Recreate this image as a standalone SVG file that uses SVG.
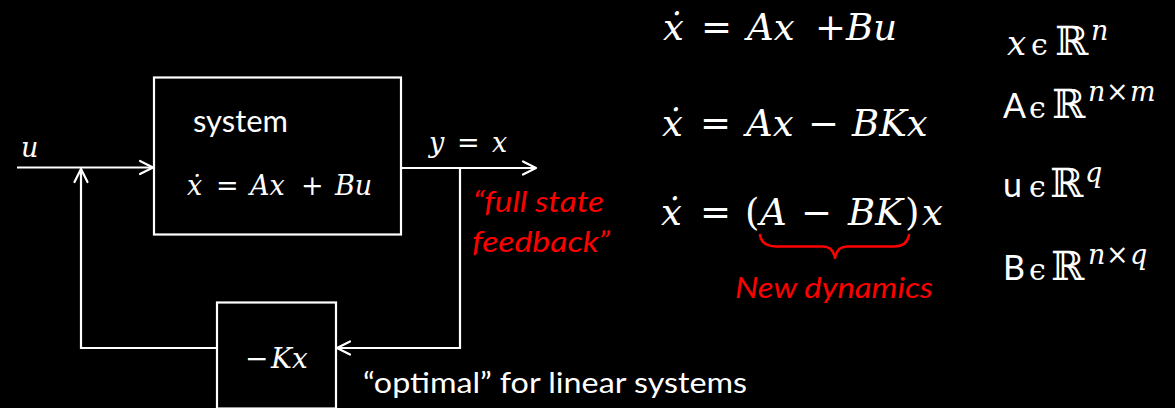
<svg xmlns="http://www.w3.org/2000/svg" width="1175" height="408" viewBox="0 0 1175 408">
<defs>
<style>
.bg{fill:#000}
.box{fill:none;stroke:#fff;stroke-width:2.2}
.wire{fill:none;stroke:#fff;stroke-width:2.2}
.m{font-family:"DejaVu Serif","Liberation Serif",serif;fill:#fff}
.mi{font-style:italic}
.sym{font-family:"DejaVu Serif","DejaVu Sans",serif;font-style:normal}
.t{font-family:Lato,"Open Sans","Liberation Sans",sans-serif;fill:#fff}
.red{fill:#ff0000;font-style:italic}
.brace{fill:none;stroke:#ff0000;stroke-width:2.5;stroke-linecap:round;stroke-linejoin:round}
</style>
<marker id="arr" markerUnits="userSpaceOnUse" markerWidth="18" markerHeight="18" viewBox="0 0 18 18" refX="15" refY="9" orient="auto">
<path d="M2,2.5 L15,9 L2,15.5" fill="none" stroke="#fff" stroke-width="2.2" stroke-linecap="round" stroke-linejoin="round"/>
</marker>
</defs>
<rect class="bg" x="0" y="0" width="1175" height="408"/>

<g id="connectors">
<path class="wire" d="M17,167.5 H153" marker-end="url(#arr)"/>
<path class="wire" d="M401,168 H536" marker-end="url(#arr)"/>
<path class="wire" d="M460,168 V348 H337" marker-end="url(#arr)"/>
<path class="wire" d="M217,348 H81 V169" marker-end="url(#arr)"/>
</g>

<g id="system">
<rect class="box" x="154" y="77.5" width="247" height="157"/>
<text class="t" x="193" y="132" font-size="30" textLength="95" lengthAdjust="spacingAndGlyphs">system</text>
<text class="m" y="195" font-size="27"><tspan class="mi" x="187">ẋ</tspan><tspan x="216">=</tspan><tspan class="mi" x="250">Ax</tspan><tspan x="301">+</tspan><tspan class="mi" x="335">Bu</tspan></text>
</g>

<g id="controller">
<rect class="box" x="217" y="302.5" width="119" height="106"/>
<text class="m" y="368" font-size="28"><tspan x="245">−</tspan><tspan class="mi" x="271">Kx</tspan></text>
</g>

<g id="labels">
<text class="m mi" x="21" y="157" font-size="27">u</text>
<text class="m" y="152" font-size="27"><tspan class="mi" x="429">y</tspan><tspan x="457">=</tspan><tspan class="mi" x="492">x</tspan></text>
<text class="t red" x="473" y="212" font-size="28" textLength="131" lengthAdjust="spacingAndGlyphs">“full state</text>
<text class="t red" x="472" y="252" font-size="28" textLength="138" lengthAdjust="spacingAndGlyphs">feedback”</text>
<text class="t" x="363" y="393" font-size="29" textLength="384" lengthAdjust="spacingAndGlyphs">“optimal” for linear systems</text>
</g>

<g id="equations">
<text class="m" y="40" font-size="37"><tspan class="mi" x="663">ẋ</tspan><tspan x="701">=</tspan><tspan class="mi" x="747">Ax</tspan><tspan x="815">+</tspan><tspan class="mi" x="846">Bu</tspan></text>
<text class="m" y="136" font-size="37"><tspan class="mi" x="662">ẋ</tspan><tspan x="700">=</tspan><tspan class="mi" x="746">Ax</tspan><tspan x="808">−</tspan><tspan class="mi" x="852">BKx</tspan></text>
<text class="m" y="225" font-size="37"><tspan class="mi" x="661">ẋ</tspan><tspan x="700">=</tspan><tspan x="745">(</tspan><tspan class="mi" x="760">A</tspan><tspan x="801">−</tspan><tspan class="mi" x="848">BK</tspan><tspan x="905">)</tspan><tspan class="mi" x="922">x</tspan></text>
<path class="brace" d="M760,235 Q762,246.5 776,246.5 L823,246.5 Q833,246.5 835,258 Q837,246.5 847,246.5 L894,246.5 Q907,246.5 909,235"/>
<text class="t red" x="735" y="298" font-size="29" textLength="198" lengthAdjust="spacingAndGlyphs">New dynamics</text>
</g>

<g id="dimensions">
<text class="m" y="55" font-size="34"><tspan class="mi" x="1007">x</tspan><tspan class="sym" x="1031" font-size="30">ϵ</tspan><tspan class="sym" x="1055" font-size="40">ℝ</tspan><tspan class="mi" x="1091" y="40" font-size="27">n</tspan></text>
<text class="m" y="118" font-size="32"><tspan class="t" x="1003" font-size="34">A</tspan><tspan class="sym" x="1029" font-size="30">ϵ</tspan><tspan class="sym" x="1052" font-size="40">ℝ</tspan><tspan class="mi" x="1088" y="101" font-size="27">n</tspan><tspan x="1106" y="101" font-size="27">×</tspan><tspan class="mi" x="1130" y="101" font-size="27">m</tspan></text>
<text class="m" y="197" font-size="32"><tspan class="t" x="1003" font-size="34">u</tspan><tspan class="sym" x="1029" font-size="30">ϵ</tspan><tspan class="sym" x="1050" font-size="40">ℝ</tspan><tspan class="mi" x="1085" y="182" font-size="27">q</tspan></text>
<text class="m" y="280" font-size="32"><tspan class="t" x="1003" font-size="34">B</tspan><tspan class="sym" x="1029" font-size="30">ϵ</tspan><tspan class="sym" x="1051" font-size="40">ℝ</tspan><tspan class="mi" x="1088" y="264" font-size="27">n</tspan><tspan x="1106" y="264" font-size="27">×</tspan><tspan class="mi" x="1130" y="264" font-size="27">q</tspan></text>
</g>
</svg>
